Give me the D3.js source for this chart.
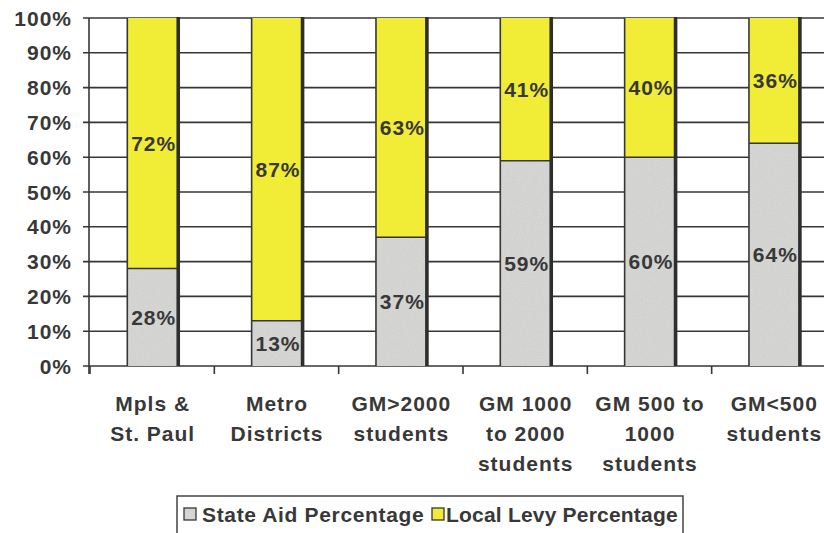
<!DOCTYPE html>
<html>
<head>
<meta charset="utf-8">
<script src="https://cdn.jsdelivr.net/npm/d3@7"></script>
<style>
  html, body { margin: 0; padding: 0; background: #fff; }
  svg { display: block; font-family: "Liberation Sans", Arial, sans-serif; font-weight: bold; letter-spacing: 1px; }
</style>
</head>
<body>
<svg id="chart" width="824" height="533"></svg>
<script>
// District groups (label lines) and their revenue shares
const categories = [
  ["Mpls &", "St. Paul"],
  ["Metro", "Districts"],
  ["GM>2000", "students"],
  ["GM 1000", "to 2000", "students"],
  ["GM 500 to", "1000", "students"],
  ["GM<500", "students"]
];
const stateAid   = [28, 13, 37, 59, 60, 64];
const localLevy  = [72, 87, 63, 41, 40, 36];
const yTicks     = [0, 10, 20, 30, 40, 50, 60, 70, 80, 90, 100];
const seriesNames = ["State Aid Percentage", "Local Levy Percentage"];
const seriesColors = ["#d5d5d3", "#f1ec36"];

const svg = d3.select("#chart");
const ink = "#363636";
const textInk = "#383838";
const margin = { left: 90, right: -12, top: 18, bottom: 167 };
const W = 824, H = 533;

const keys = categories.map(c => c.join(" "));
const x = d3.scaleBand()
  .domain(keys)
  .range([margin.left, W - margin.right])
  .paddingInner(0.6)
  .paddingOuter(0.3);
const y = d3.scaleLinear().domain([0, 100]).range([H - margin.bottom, margin.top]);

// speckled texture for the grey segments
const defs = svg.append("defs");
const filt = defs.append("filter").attr("id", "grain").attr("x", 0).attr("y", 0).attr("width", 1).attr("height", 1);
filt.append("feTurbulence").attr("type", "fractalNoise").attr("baseFrequency", 0.9).attr("numOctaves", 2).attr("seed", 3).attr("result", "noise");
filt.append("feColorMatrix").attr("in", "noise").attr("type", "matrix")
  .attr("values", "0 0 0 0 0.6  0 0 0 0 0.6  0 0 0 0 0.6  0 0 0 -1.6 0.95").attr("result", "specks");
filt.append("feComposite").attr("in", "specks").attr("in2", "SourceGraphic").attr("operator", "in").attr("result", "clipped");
filt.append("feMerge").call(m => { m.append("feMergeNode").attr("in", "SourceGraphic"); m.append("feMergeNode").attr("in", "clipped"); });

// horizontal gridlines
svg.append("g")
  .selectAll("line")
  .data(yTicks)
  .join("line")
  .attr("x1", margin.left - 7)
  .attr("x2", W)
  .attr("y1", d => y(d))
  .attr("y2", d => y(d))
  .attr("stroke", ink)
  .attr("stroke-width", 1.6);

// y axis line and labels
svg.append("line")
  .attr("x1", margin.left - 1).attr("x2", margin.left - 1)
  .attr("y1", y(100)).attr("y2", y(0) + 8)
  .attr("stroke", ink).attr("stroke-width", 1.6);

svg.append("g")
  .selectAll("text")
  .data(yTicks)
  .join("text")
  .attr("x", 72)
  .attr("y", d => y(d))
  .attr("dy", "0.36em")
  .attr("text-anchor", "end")
  .attr("font-size", 21)
  .attr("fill", textInk)
  .text(d => d + "%");

// category separator ticks below the axis
const step = x.step();
const bounds = d3.range(keys.length + 1).map(i => x(keys[0]) - step * 0.3 + i * step);
svg.append("g")
  .selectAll("line")
  .data(bounds)
  .join("line")
  .attr("x1", d => d).attr("x2", d => d)
  .attr("y1", y(0)).attr("y2", y(0) + 8)
  .attr("stroke", ink).attr("stroke-width", 1.6);

// stacked bars
const rows = keys.map((k, i) => ({ key: k, state: stateAid[i], local: localLevy[i] }));
const bars = svg.append("g").selectAll("g").data(rows).join("g");
const bw = x.bandwidth();

bars.append("rect")
  .attr("x", d => x(d.key)).attr("width", bw)
  .attr("y", d => y(d.state)).attr("height", d => y(0) - y(d.state))
  .attr("fill", seriesColors[0])
  .attr("filter", "url(#grain)");
bars.append("rect")
  .attr("x", d => x(d.key)).attr("width", bw)
  .attr("y", d => y(d.state + d.local)).attr("height", d => y(d.state) - y(d.state + d.local))
  .attr("fill", seriesColors[1]);

// outlines: thin on the left and at the split, heavy on the right
bars.append("line")
  .attr("x1", d => x(d.key)).attr("x2", d => x(d.key))
  .attr("y1", d => y(d.state + d.local)).attr("y2", y(0))
  .attr("stroke", ink).attr("stroke-width", 1.6);
bars.append("line")
  .attr("x1", d => x(d.key)).attr("x2", d => x(d.key) + bw)
  .attr("y1", d => y(d.state)).attr("y2", d => y(d.state))
  .attr("stroke", ink).attr("stroke-width", 1.4);
bars.append("line")
  .attr("x1", d => x(d.key) + bw + 1.2).attr("x2", d => x(d.key) + bw + 1.2)
  .attr("y1", d => y(d.state + d.local) - 1).attr("y2", y(0))
  .attr("stroke", "#2e2e2e").attr("stroke-width", 3.6);

// value labels centred in each segment
const labelSize = 21;
bars.append("text")
  .attr("x", d => x(d.key) + bw / 2 + 1.5)
  .attr("y", d => y(d.state / 2))
  .attr("dy", "0.36em")
  .attr("text-anchor", "middle")
  .attr("font-size", labelSize)
  .attr("fill", textInk)
  .text(d => d.state + "%");
bars.append("text")
  .attr("x", d => x(d.key) + bw / 2 + 1.5)
  .attr("y", d => y(d.state + d.local / 2))
  .attr("dy", "0.36em")
  .attr("text-anchor", "middle")
  .attr("font-size", labelSize)
  .attr("fill", textInk)
  .text(d => d.local + "%");

// category labels
const catG = svg.append("g").selectAll("text").data(categories).join("text")
  .attr("text-anchor", "middle")
  .attr("font-size", 21)
  .attr("fill", textInk);
catG.each(function (lines, i) {
  const t = d3.select(this);
  const cx = x(keys[i]) + bw / 2 + 0.5;
  lines.forEach((ln, j) => {
    t.append("tspan").attr("x", cx).attr("y", 411 + j * 30).text(ln);
  });
});

// legend
const lg = svg.append("g");
lg.append("rect")
  .attr("x", 177).attr("y", 496).attr("width", 506).attr("height", 40)
  .attr("fill", "#fff").attr("stroke", ink).attr("stroke-width", 1.4);
const legendItems = [
  { name: seriesNames[0], color: seriesColors[0], sx: 184, tx: 202, ls: 0.65 },
  { name: seriesNames[1], color: seriesColors[1], sx: 432, tx: 446, ls: 0.2 }
];
legendItems.forEach(it => {
  lg.append("rect")
    .attr("x", it.sx).attr("y", 508).attr("width", 12).attr("height", 12)
    .attr("fill", it.color).attr("stroke", ink).attr("stroke-width", 1.3);
  lg.append("text")
    .attr("x", it.tx).attr("y", 522)
    .attr("font-size", 21)
    .attr("letter-spacing", it.ls)
    .attr("fill", textInk)
    .text(it.name);
});
</script>
</body>
</html>
